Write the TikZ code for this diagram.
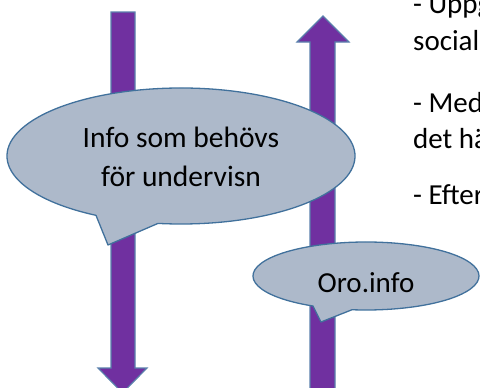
\documentclass[tikz,border=0pt]{standalone}
\usepackage{fontspec}
\setmainfont{Carlito}
\usetikzlibrary{calc}
\begin{document}
\begin{tikzpicture}[x=1pt,y=-1pt,
  arrowshape/.style={fill=arrowpurple,draw=arrowedge,line width=1.2pt,line join=miter},
  callout/.style={fill=calloutfill,draw=calloutedge,line width=1.3pt,line join=round},
  bigtext/.style={font=\fontsize{29.5}{39}\selectfont,align=center,inner sep=0pt},
  sidetext/.style={font=\fontsize{29}{35}\selectfont,anchor=base west,inner sep=0pt}]
\definecolor{arrowpurple}{HTML}{7030A0}
\definecolor{arrowedge}{HTML}{5A80AC}
\definecolor{calloutfill}{HTML}{ADB9CA}
\definecolor{calloutedge}{HTML}{41719C}
\useasboundingbox (0,0) rectangle (480,388);
% down arrow (left)
\draw[arrowshape] (111,12) -- (135,12) -- (135,368) -- (147,368) -- (122.5,393) -- (98,368) -- (111,368) -- cycle;
% up arrow (right)
\draw[arrowshape] (310,400) -- (310,42) -- (297,42) -- (323,16) -- (349,42) -- (335,42) -- (335,400) -- cycle;
% big callout
\path[callout] let \n1={acos((158-181)/174)}, \n2={acos((96-181)/174)} in
  (96,{156+68*sin(\n2)}) arc[start angle=\n2, end angle={360+\n1}, x radius=174, y radius=68]
  -- (108,245) -- cycle;
\node[bigtext] (bigtxt) at (181,157) {Info som behövs\\för undervisn};
% small callout
\path[callout] let \n1={acos((352-366)/113)}, \n2={acos((313-366)/113)} in
  (313,{276+34*sin(\n2)}) arc[start angle=\n2, end angle={360+\n1}, x radius=113, y radius=34]
  -- (321,322) -- cycle;
\node[font=\fontsize{29}{35}\selectfont,anchor=base,inner sep=0pt] (orotxt) at (366,292) {Oro.info};
% side text
\node[sidetext] (t1) at (413,13) {- Uppg};
\node[sidetext] (t2) at (413,50) {social};
\node[sidetext] (t3) at (413,112) {- Med};
\node[sidetext] (t4) at (413,148) {det hä};
\node[sidetext] (t5) at (413,204) {- Efter};
\end{tikzpicture}
\end{document}
